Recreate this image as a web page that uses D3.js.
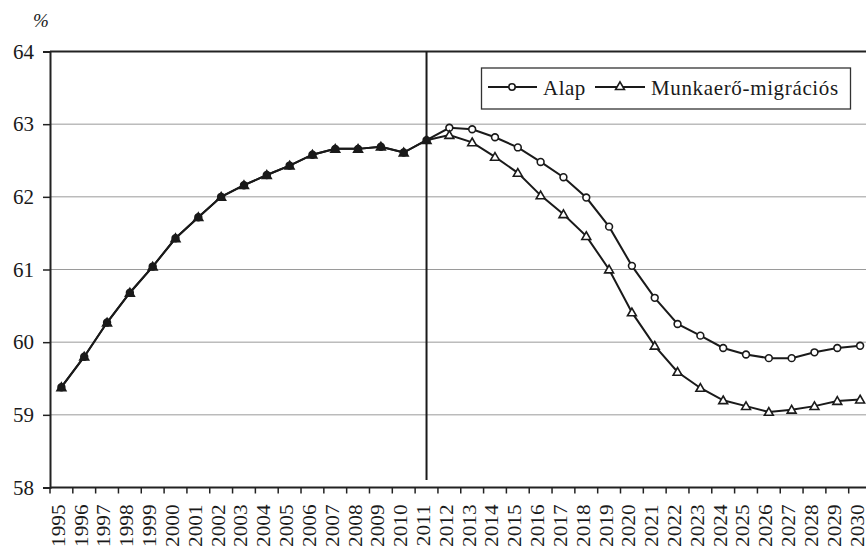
<!DOCTYPE html>
<html>
<head>
<meta charset="utf-8">
<script src="https://cdn.jsdelivr.net/npm/d3@7"></script>
<style>
  html, body { margin: 0; padding: 0; background: #fff; }
  svg { display: block; }
</style>
</head>
<body>
<svg id="chart" width="866" height="550"></svg>
<script>
const years = d3.range(1995, 2031).map(String);
const alap = [59.38, 59.80, 60.27, 60.68, 61.04, 61.43, 61.72, 62.00, 62.16, 62.30,
              62.43, 62.58, 62.66, 62.66, 62.69, 62.61, 62.78, 62.95, 62.93, 62.82,
              62.68, 62.48, 62.27, 61.99, 61.59, 61.05, 60.61, 60.25, 60.09, 59.92,
              59.83, 59.78, 59.78, 59.86, 59.92, 59.95];
const migracios = [59.38, 59.80, 60.27, 60.68, 61.04, 61.43, 61.72, 62.00, 62.16, 62.30,
              62.43, 62.58, 62.66, 62.66, 62.69, 62.61, 62.78, 62.85, 62.75, 62.55,
              62.33, 62.02, 61.76, 61.46, 61.00, 60.41, 59.95, 59.59, 59.37, 59.20,
              59.12, 59.04, 59.07, 59.12, 59.19, 59.21];
const yTicks = [58, 59, 60, 61, 62, 63, 64];
const seriesNames = ["Alap", "Munkaerő-migrációs"];
const dividerYear = "2011";
const unitLabel = "%";

(function () {
const FONT = "'Liberation Serif', Tinos, 'Times New Roman', 'DejaVu Serif', serif";
const INK = "#1a1a1a";
const svg = d3.select("#chart").style("font-family", FONT);
const pLeft = 50, pTop = 51.5, pBottom = 487.5;
const bandW = 22.82;
const pRight = pLeft + years.length * bandW;

const x = d3.scaleBand().domain(years).range([pLeft, pRight]).paddingInner(0).paddingOuter(0);
const y = d3.scaleLinear().domain([58, 64]).range([pBottom, pTop]);
const cx = d => x(d) + x.bandwidth() / 2;

// gridlines
svg.append("g").selectAll("line").data(yTicks.filter(t => t > 58 && t < 64)).join("line")
  .attr("x1", pLeft).attr("x2", pRight)
  .attr("y1", d => y(d)).attr("y2", d => y(d))
  .attr("stroke", "#9a9a9a").attr("stroke-width", 1);

// top border
svg.append("line").attr("x1", pLeft).attr("x2", pRight).attr("y1", y(64)).attr("y2", y(64))
  .attr("stroke", "#222").attr("stroke-width", 2);

// y axis
const yAxis = svg.append("g").attr("transform", `translate(${pLeft},0)`)
  .call(d3.axisLeft(y).tickValues(yTicks).tickSize(7).tickPadding(9).tickFormat(d3.format("d")));
yAxis.attr("font-family", null);
yAxis.select(".domain").attr("stroke", "#222").attr("stroke-width", 2);
yAxis.selectAll(".tick line").attr("stroke", "#222").attr("stroke-width", 1.5);
yAxis.selectAll("text").style("font-family", FONT).style("font-size", "21px").attr("fill", INK);

// x axis
const xAxis = svg.append("g").attr("transform", `translate(0,${pBottom})`)
  .call(d3.axisBottom(x).tickSize(0).tickPadding(0));
xAxis.attr("font-family", null);
xAxis.select(".domain").remove();
xAxis.append("line").attr("x1", pLeft).attr("x2", pRight).attr("y1", 0).attr("y2", 0)
  .attr("stroke", "#222").attr("stroke-width", 2);
xAxis.append("g").selectAll("line").data(d3.range(0, years.length + 1)).join("line")
  .attr("x1", i => pLeft + i * x.bandwidth()).attr("x2", i => pLeft + i * x.bandwidth())
  .attr("y1", 0).attr("y2", 6).attr("stroke", "#222").attr("stroke-width", 1.5);
xAxis.selectAll(".tick text")
  .style("font-family", FONT).style("font-size", "18px").attr("fill", INK)
  .attr("text-anchor", "end").attr("dy", "0.33em")
  .attr("transform", "translate(-2.5,17) rotate(-90) scale(1.18,1)")
  .attr("x", 0).attr("y", 0);

// unit label
svg.append("text").attr("x", 33).attr("y", 27).style("font-size", "19px").style("font-style", "italic")
  .attr("fill", INK).text(unitLabel);

// divider line
svg.append("line").attr("x1", cx(dividerYear)).attr("x2", cx(dividerYear))
  .attr("y1", y(64)).attr("y2", 480).attr("stroke", INK).attr("stroke-width", 2);

// lines
const line = d3.line().x((d, i) => cx(years[i])).y(d => y(d));
[alap, migracios].forEach(s => {
  svg.append("path").datum(s).attr("d", line).attr("fill", "none")
    .attr("stroke", INK).attr("stroke-width", 2);
});

const same = i => alap[i] === migracios[i];
const tri = d3.symbol().type(d3.symbolTriangle).size(34);
svg.append("g").selectAll("circle").data(alap).join("circle")
  .attr("cx", (d, i) => cx(years[i])).attr("cy", d => y(d)).attr("r", 3.4)
  .attr("fill", (d, i) => same(i) ? INK : "#fff").attr("stroke", INK).attr("stroke-width", 1.6);
svg.append("g").selectAll("path").data(migracios).join("path")
  .attr("d", tri).attr("transform", (d, i) => `translate(${cx(years[i])},${y(d) + 0.8})`)
  .attr("fill", (d, i) => same(i) ? INK : "#fff").attr("stroke", INK).attr("stroke-width", 1.6);

// legend
const lg = svg.append("g");
lg.append("rect").attr("x", 481.5).attr("y", 68).attr("width", 369).attr("height", 41)
  .attr("fill", "#fff").attr("stroke", "#333").attr("stroke-width", 1.3);
const legY = 87;
lg.append("line").attr("x1", 488).attr("x2", 537).attr("y1", legY).attr("y2", legY).attr("stroke", INK).attr("stroke-width", 2);
lg.append("circle").attr("cx", 512).attr("cy", legY).attr("r", 3.2).attr("fill", "#fff").attr("stroke", INK).attr("stroke-width", 1.6);
lg.append("text").attr("x", 543).attr("y", 95).style("font-size", "21px").style("letter-spacing", "0.5px").attr("fill", INK).text(seriesNames[0]);
lg.append("line").attr("x1", 595).attr("x2", 645).attr("y1", legY).attr("y2", legY).attr("stroke", INK).attr("stroke-width", 2);
lg.append("path").attr("d", tri).attr("transform", `translate(620,${legY})`).attr("fill", "#fff").attr("stroke", INK).attr("stroke-width", 1.6);
lg.append("text").attr("x", 651).attr("y", 95).style("font-size", "21px").style("letter-spacing", "0.65px").attr("fill", INK).text(seriesNames[1]);
})();
</script>
</body>
</html>
